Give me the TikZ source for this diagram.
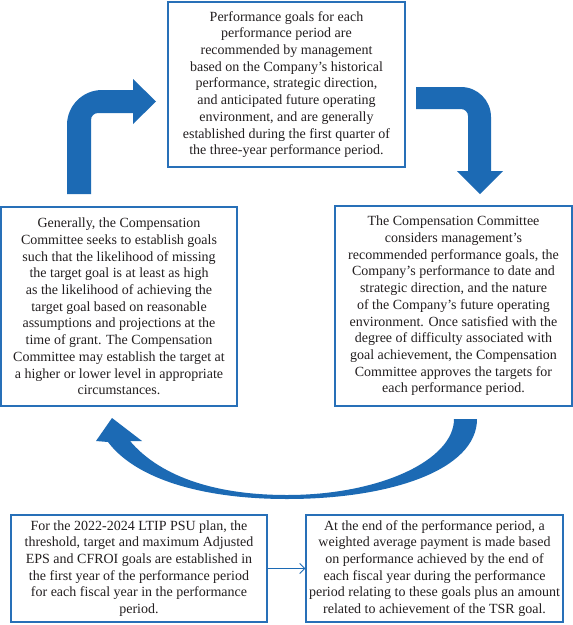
\documentclass[tikz,border=0pt]{standalone}
\usepackage{fontspec}
\setmainfont{Liberation Serif}
\usetikzlibrary{arrows.meta}
\definecolor{arrowblue}{RGB}{28,106,180}
\definecolor{boxblue}{RGB}{40,112,184}
\definecolor{txt}{RGB}{35,31,32}
\tikzset{
  txtbox/.style={draw=boxblue, line width=1.4pt, align=center, inner sep=0pt,
    text=txt, font=\fontsize{14}{16.7}\selectfont},
  bigarrow/.style={fill=arrowblue, draw=none},
  conn/.style={draw=arrowblue, line width=0.9pt, -{Straight Barb[length=5pt,width=10pt,line width=0.9pt]}}
}
\begin{document}
\begin{tikzpicture}[x=1pt,y=-1pt]
\useasboundingbox (0,0) rectangle (573,625);
\fill[white] (0,0) rectangle (573,625);

\node[txtbox, minimum width=237pt, minimum height=165pt] (top) at (286.5,84.5)
{Performance goals for each\\
performance period are\\
recommended by management\\
based on the Company’s historical\\
performance, strategic direction,\\
and anticipated future operating\\
environment, and are generally\\
established during the first quarter of\\
the three-year performance period.};

\node[txtbox, minimum width=236pt, minimum height=199pt] (left) at (119,306.5)
{Generally, the Compensation\\
Committee seeks to establish goals\\
such that the likelihood of missing\\
the target goal is at least as high\\
as the likelihood of achieving the\\
target goal based on reasonable\\
assumptions and projections at the\\
time of grant. The Compensation\\
Committee may establish the target at\\
a higher or lower level in appropriate\\
circumstances.};

\node[txtbox, minimum width=237pt, minimum height=200pt] (right) at (453.5,306)
{The Compensation Committee\\
considers management’s\\
recommended performance goals, the\\
Company’s performance to date and\\
strategic direction, and the nature\\
of the Company’s future operating\\
environment. Once satisfied with the\\
degree of difficulty associated with\\
goal achievement, the Compensation\\
Committee approves the targets for\\
each performance period.};

\node[txtbox, minimum width=256pt, minimum height=107pt] (bl) at (139,568.5)
{For the 2022-2024 LTIP PSU plan, the\\
threshold, target and maximum Adjusted\\
EPS and CFROI goals are established in\\
the first year of the performance period\\
for each fiscal year in the performance\\
period.};

\node[txtbox, minimum width=257pt, minimum height=107pt] (br) at (434.5,568.5)
{At the end of the performance period, a\\
weighted average payment is made based\\
on performance achieved by the end of\\
each fiscal year during the performance\\
period relating to these goals plus an amount\\
related to achievement of the TSR goal.};

\draw[conn] (bl) -- (br);

% left bent arrow (up then right)
\fill[bigarrow] (67,194) -- (67,125)
  .. controls (67,105.7) and (82.7,90) .. (102,90)
  -- (133,90) -- (133,79) -- (156,101.5) -- (133,124) -- (133,113)
  -- (98,113) .. controls (94.1,113) and (91,116.1) .. (91,120)
  -- (91,194) -- cycle;

% right bent arrow (right then down)
\fill[bigarrow] (416,87) -- (461,87)
  .. controls (477.6,87) and (491,100.4) .. (491,117)
  -- (491,171) -- (503,171) -- (480,194) -- (457,171) -- (468,171)
  -- (468,116) .. controls (468,112.1) and (464.9,109) .. (461,109)
  -- (416,109) -- cycle;

% big curved arrow (bottom, right to left)
\fill[bigarrow] (477,419)
  .. controls (477,470) and (390,499) .. (287,499)
  .. controls (200,499) and (135,478) .. (108,442)
  -- (96,441) -- (112,418) -- (142,441) -- (130,441)
  .. controls (158,474) and (210,495) .. (287,495)
  .. controls (380,495) and (454,460) .. (454,419)
  -- cycle;
\end{tikzpicture}
\end{document}
